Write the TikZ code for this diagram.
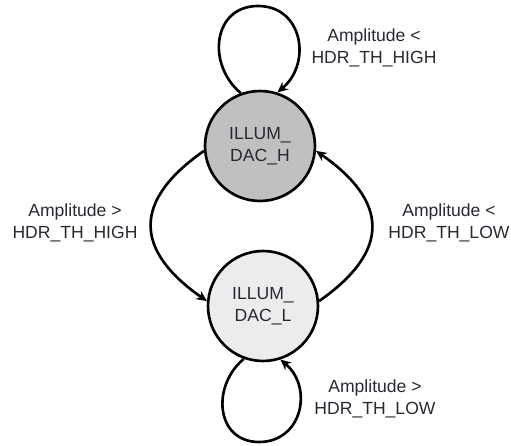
\documentclass[tikz,border=0pt]{standalone}
\usepackage{fontspec}
\setmainfont{Liberation Sans}
\usepackage{xcolor}
\definecolor{darkfill}{RGB}{192, 192, 192}
\definecolor{lightfill}{RGB}{236, 236, 236}
\definecolor{labeltext}{RGB}{40, 40, 50}
\usepackage{tikz}
\usetikzlibrary{positioning, arrows.meta}
\tikzset{
  state/.style = {
    draw,
    circle,
    line width=1.5pt,
    minimum size=2.2cm,
    inner sep=0pt,
    align=center,
    text=labeltext,
    font=\fontsize{10}{12.5}\selectfont
  },
  trans/.style = {
    -{Stealth[length=6pt, width=5.5pt]},
    line width=1.5pt
  },
  cond/.style = {
    align=center,
    text=labeltext,
    font=\fontsize{10}{12.5}\selectfont,
    inner sep=0pt
  },
}

\begin{document}
\begin{tikzpicture}[x=0.02cm, y=0.02cm]
    \useasboundingbox (0,0) rectangle (511,-446);
    \node[state, fill=darkfill]  (high) at (260,-146) {ILLUM\_\\DAC\_H};
    \node[state, fill=lightfill] (low)  at (263,-306) {ILLUM\_\\DAC\_L};
    % self loops
    \coordinate (hightop) at (258,-6);
    \coordinate (lowbot)  at (259,-442);
    \draw[trans] (high.110) to[out=140, in=180, looseness=1.3] (hightop)
      to[out=0, in=40, looseness=1.3] (high.72);
    \draw[trans] (low.-110) to[out=-140, in=180, looseness=1.3] (lowbot)
      to[out=0, in=-40, looseness=1.3] (low.-72);
    % transitions
    \draw[trans] (high.185) to[out=215, in=145, looseness=1.5] (low.175);
    \draw[trans] (low.5) to[out=35, in=-35, looseness=1.5] (high.-5);
    \node[cond] (keephigh) at (374,-48)  {Amplitude <\\HDR\_TH\_HIGH};
    \node[cond] (godown)   at (75,-223)  {Amplitude >\\HDR\_TH\_HIGH};
    \node[cond] (goup)     at (449,-223) {Amplitude <\\HDR\_TH\_LOW};
    \node[cond] (keeplow)  at (375,-399) {Amplitude >\\HDR\_TH\_LOW};
  \end{tikzpicture}
\end{document}
